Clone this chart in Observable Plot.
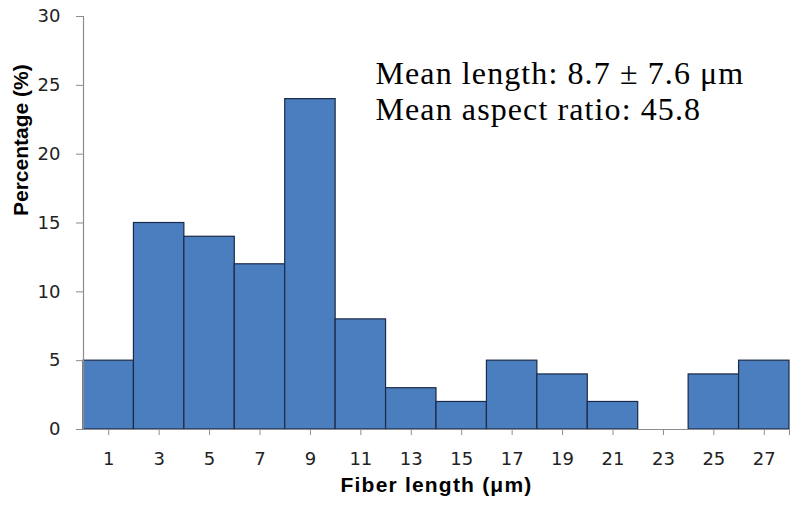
<!DOCTYPE html>
<html>
<head>
<meta charset="utf-8">
<script src="https://cdn.jsdelivr.net/npm/d3@7"></script>
<script src="https://cdn.jsdelivr.net/npm/@observablehq/plot@0.6"></script>
<style>
  html, body { margin: 0; padding: 0; background: #fff; }
</style>
</head>
<body>
<div id="chart"></div>
<script>
// Bin edges (µm) and percentages
const binStart = [0, 2, 4, 6, 8, 10, 12, 14, 16, 18, 20, 22, 24, 26];
const binEnd   = [2, 4, 6, 8, 10, 12, 14, 16, 18, 20, 22, 24, 26, 28];
const percent  = [5, 15, 14, 12, 24, 8, 3, 2, 5, 4, 2, 0, 4, 5];
const xTicks = [1, 3, 5, 7, 9, 11, 13, 15, 17, 19, 21, 23, 25, 27];
const yTicks = [0, 5, 10, 15, 20, 25, 30];
const notes = ["Mean length: 8.7 ± 7.6 μm", "Mean aspect ratio: 45.8"];

const bars = binStart.map((s, i) => ({x1: s, x2: binEnd[i], y: percent[i]}));

const chart = Plot.plot({
  width: 800,
  height: 514,
  marginLeft: 83,
  marginRight: 11,
  marginTop: 16,
  marginBottom: 85,
  style: {fontFamily: "DejaVu Sans", fontSize: "18px", color: "#222", background: "#fff"},
  x: {domain: [0, 28]},
  y: {domain: [0, 30]},
  marks: [
    Plot.rectY(bars.filter(d => d.y > 0), {x1: "x1", x2: "x2", y: "y", fill: "#4a7ebf", stroke: "#1b2a48", strokeWidth: 1.2, inset: 0}),
    Plot.ruleX([0], {stroke: "#8c8c8c", strokeWidth: 1.2}),
    Plot.ruleY([0], {stroke: "#8c8c8c", strokeWidth: 1.2}),
    Plot.axisY({ticks: yTicks, tickSize: 7, tickPadding: 16, stroke: "#8c8c8c", label: null, fontSize: 18}),
    Plot.axisX({ticks: xTicks, tickSize: 6, tickPadding: 17, stroke: "#8c8c8c", label: null, fontSize: 18}),
    Plot.axisX({ticks: [28], tickSize: 6, tickFormat: () => "", stroke: "#8c8c8c", label: null}),
    Plot.text([notes[0]], {x: 11.58, y: 25.13, text: d => d, textAnchor: "start", lineAnchor: "bottom",
      fontFamily: "Liberation Serif", fontSize: 32, fill: "#000", className: "note"}),
    Plot.text([notes[1]], {x: 11.58, y: 25.13, dy: 36, text: d => d, textAnchor: "start", lineAnchor: "bottom",
      fontFamily: "Liberation Serif", fontSize: 32, fill: "#000", className: "note"}),
    Plot.text(["Fiber length (μm)"], {frameAnchor: "bottom", dy: 62, text: d => d,
      fontFamily: "Liberation Sans", fontWeight: "bold", fontSize: 21, fill: "#000", className: "xtitle"}),
    Plot.text(["Percentage (%)"], {frameAnchor: "left", dx: -62, dy: -7, rotate: -90, text: d => d,
      fontFamily: "Liberation Sans", fontWeight: "bold", fontSize: 21, fill: "#000"})
  ]
});
chart.querySelectorAll(".xtitle text").forEach(t => t.setAttribute("letter-spacing", "1.2"));
chart.querySelectorAll(".note text").forEach(t => t.setAttribute("letter-spacing", "1.1"));
document.getElementById("chart").append(chart);
</script>
</body>
</html>
